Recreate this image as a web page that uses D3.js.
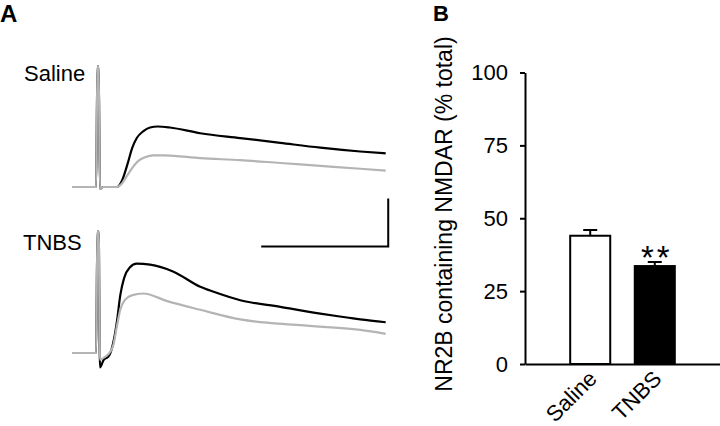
<!DOCTYPE html>
<html>
<head>
<meta charset="utf-8">
<script src="https://cdn.jsdelivr.net/npm/d3@7"></script>
<style>
  body { margin: 0; background: #fff; }
  text { font-family: "Liberation Sans", Arial, sans-serif; fill: #000; }
</style>
</head>
<body>
<div class="canvas"></div>
<script>
// ---- panel A: traces, [time ms, current pA]
const salineBlack = [[0,0],[38,0],[40,126],[42,126],[44,-2],[49,0],[71,0],[79,7],[87,23],[95,41],[102,51],[112,58],[123,62],[135,63],[154,62],[202,56],[265,51],[328,46],[391,41],[454,37],[494,35]];
const salineGrey = [[0,0],[38,0],[40,126],[42,126],[44,-2],[49,0],[71,0],[79,4],[87,12],[95,20],[104,27],[115,31],[128,33],[146,33],[202,30],[265,28],[328,25],[391,22],[454,19],[494,17]];
const tnbsBlack = [[0,0],[38,0],[40,127],[42,127],[44,-15],[50,-7],[57,-4],[61,1],[66,14],[71,34],[76,60],[82,78],[91,89],[102,93],[123,92],[159,85],[202,69],[222,64],[265,55],[328,48],[391,41],[433,37],[454,35],[494,32]];
const tnbsGrey = [[0,0],[38,0],[40,127],[42,127],[44,-7],[52,-4],[60,1],[65,8],[71,29],[76,45],[83,55],[94,60],[112,62],[150,54],[202,45],[265,35],[359,29],[454,24],[494,20]];
const traceLabels = ["Saline", "TNBS"];
const scaleBarMs = 200;
const scaleBarPa = 50;

// ---- panel B: bar chart
const groups = ["Saline", "TNBS"];
const means = [44, 33.6];
const errors = [2, 1.4];
const yTicks = [0, 25, 50, 75, 100];

const width = 720;
const height = 426;

const svg = d3
  .select(".canvas")
  .append("svg")
  .attr("width", width)
  .attr("height", height);

svg.append("rect").attr("width", width).attr("height", height).attr("fill", "#fff");

// panel letters
svg.append("text").attr("x", 0).attr("y", 22).style("font-size", "24px").style("font-weight", "bold").text("A");
svg.append("text").attr("x", 433).attr("y", 21).style("font-size", "22px").style("font-weight", "bold").text("B");

// ---- traces
const t = d3.scaleLinear().domain([0, 500]).range([72, 389.5]);
const ySaline = d3.scaleLinear().domain([0, 100]).range([187, 91]);
const yTnbs = d3.scaleLinear().domain([0, 100]).range([353, 257]);

const traceLine = (y) =>
  d3
    .line()
    .x((d) => t(d[0]))
    .y((d) => y(d[1]))
    .curve(d3.curveMonotoneX);

const traces = svg.append("g").attr("class", "traces");

[
  { data: salineBlack, y: ySaline, color: "#000" },
  { data: tnbsBlack, y: yTnbs, color: "#000" },
  { data: salineGrey, y: ySaline, color: "#b4b4b4" },
  { data: tnbsGrey, y: yTnbs, color: "#b4b4b4" },
].forEach((s) => {
  traces
    .append("path")
    .datum(s.data)
    .attr("fill", "none")
    .attr("stroke", s.color)
    .attr("stroke-width", 2.2)
    .attr("stroke-linejoin", "round")
    .attr("d", traceLine(s.y));
});

svg.append("text").attr("x", 24).attr("y", 81).style("font-size", "22px").text(traceLabels[0]);
svg.append("text").attr("x", 23).attr("y", 250).style("font-size", "22px").text(traceLabels[1]);

// scale bar (anchored in TNBS trace coordinates)
const barEnd = 498;
const barLevel = 111;
const pxPerPa = yTnbs(0) - yTnbs(1);
svg
  .append("path")
  .attr("fill", "none")
  .attr("stroke", "#000")
  .attr("stroke-width", 2)
  .attr(
    "d",
    `M${t(barEnd - scaleBarMs)},${yTnbs(barLevel)}H${t(barEnd)}V${yTnbs(barLevel) - scaleBarPa * pxPerPa}`
  );

// ---- bar chart
const x = d3
  .scaleBand()
  .domain(groups)
  .range([525, 720])
  .paddingInner(0.38)
  .paddingOuter(0.7);
const y = d3.scaleLinear().domain([0, 100]).range([364, 72.5]);

const chart = svg.append("g").attr("class", "bars");

chart
  .selectAll("rect.bar")
  .data(groups)
  .enter()
  .append("rect")
  .attr("class", "bar")
  .attr("x", (d) => x(d))
  .attr("y", (d, i) => y(means[i]))
  .attr("width", x.bandwidth())
  .attr("height", (d, i) => y(0) - y(means[i]))
  .attr("fill", (d, i) => (i === 0 ? "#fff" : "#000"))
  .attr("stroke", "#000")
  .attr("stroke-width", 2);

// error bars
groups.forEach((g, i) => {
  const cx = x(g) + x.bandwidth() / 2;
  chart
    .append("path")
    .attr("fill", "none")
    .attr("stroke", "#000")
    .attr("stroke-width", 2)
    .attr("d", `M${cx},${y(means[i])}V${y(means[i] + errors[i])}M${cx - 7},${y(means[i] + errors[i])}H${cx + 7}`);
});

// significance
chart
  .append("text")
  .attr("x", x("TNBS") + x.bandwidth() / 2 + 2)
  .attr("y", y(means[1] + errors[1]) + 7)
  .attr("text-anchor", "middle")
  .style("font-size", "33px")
  .style("letter-spacing", "3px")
  .text("**");

// axes
const yAxis = d3.axisLeft(y).tickValues(yTicks).tickSize(5).tickSizeOuter(0).tickPadding(12);
const yAxisGroup = svg.append("g").attr("transform", "translate(525,0)").call(yAxis);
yAxisGroup.selectAll("text").style("font-size", "22px").attr("fill", "#000");
yAxisGroup.selectAll("line, path").attr("stroke", "#000").attr("stroke-width", 2);

const xAxisGroup = svg
  .append("g")
  .attr("transform", `translate(0,${y(0)})`)
  .call(d3.axisBottom(x).tickSize(0).tickSizeOuter(0).tickFormat(""));
xAxisGroup.select("path").attr("stroke", "#000").attr("stroke-width", 2);

// rotated category labels
svg
  .selectAll("text.cat")
  .data(groups)
  .enter()
  .append("text")
  .attr("class", "cat")
  .attr("text-anchor", "end")
  .style("font-size", "22px")
  .attr("transform", (d) => `translate(${x(d) + x.bandwidth() / 2 + 8},380) rotate(-45)`)
  .text((d) => d);

// y label
svg
  .append("text")
  .attr("transform", "translate(452,214) rotate(-90)")
  .attr("text-anchor", "middle")
  .style("font-size", "23px")
  .text("NR2B containing NMDAR (% total)");
</script>
</body>
</html>
